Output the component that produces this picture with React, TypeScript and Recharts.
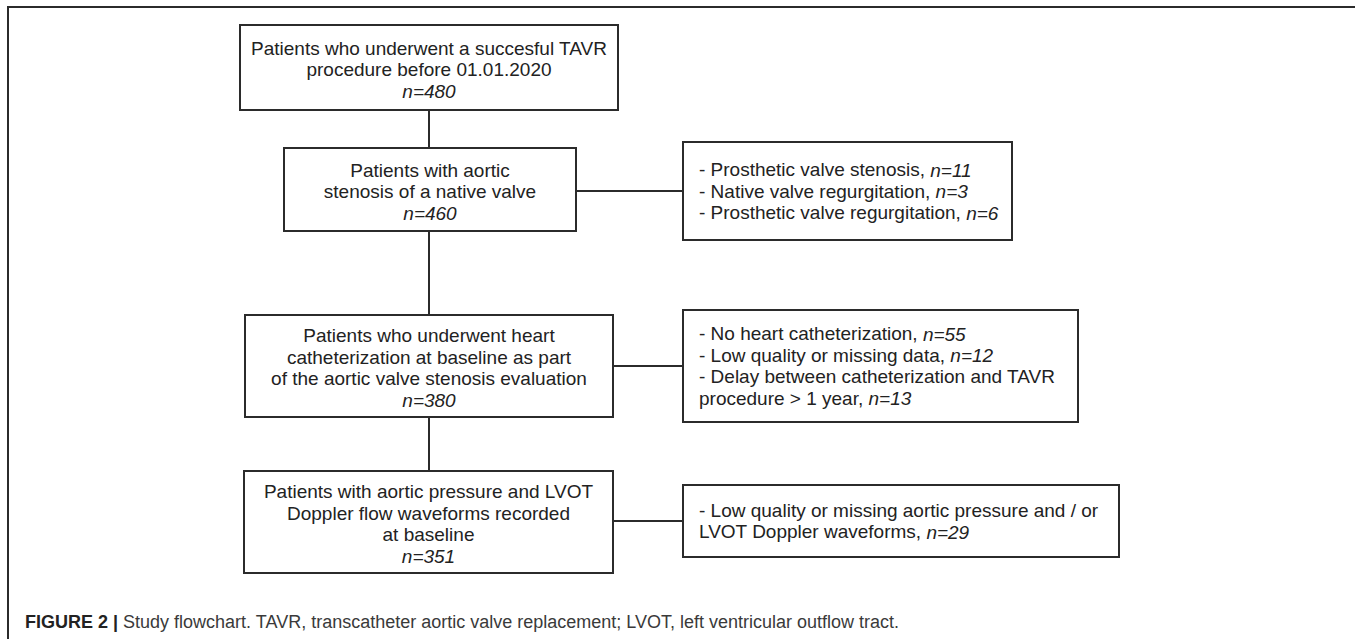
import React from 'react';
import { ComposedChart, XAxis, YAxis, ReferenceArea, ReferenceLine } from 'recharts';

const FONT = '"Liberation Sans", Arial, Helvetica, sans-serif';
const INK = '#2b2b2b';
const W = 1355;
const H = 639;

// main path of the flowchart
const stepLines = [
  ['Patients who underwent a succesful TAVR', 'procedure before 01.01.2020'],
  ['Patients with aortic', 'stenosis of a native valve'],
  ['Patients who underwent heart', 'catheterization at baseline as part', 'of the aortic valve stenosis evaluation'],
  ['Patients with aortic pressure and LVOT', 'Doppler flow waveforms recorded', 'at baseline'],
];
const stepCounts = [480, 460, 380, 351];

// excluded patients, one box per step after the first (null = no count on that line)
const exclusionLines = [
  ['- Prosthetic valve stenosis, ', '- Native valve regurgitation, ', '- Prosthetic valve regurgitation, '],
  ['- No heart catheterization, ', '- Low quality or missing data, ', '- Delay between catheterization and TAVR', 'procedure > 1 year, '],
  ['- Low quality or missing aortic pressure and / or', 'LVOT Doppler waveforms, '],
];
const exclusionCounts = [
  [11, 3, 6],
  [55, 12, null, 13],
  [null, 29],
];

// layout, in page pixels
const stepBoxes = [
  { x1: 240, x2: 618, y1: 25, y2: 110 },
  { x1: 284, x2: 576, y1: 148, y2: 231 },
  { x1: 245, x2: 613, y1: 315, y2: 417 },
  { x1: 244, x2: 613, y1: 471, y2: 573 },
];
const exclusionBoxes = [
  { x1: 683, x2: 1012, y1: 142, y2: 240 },
  { x1: 683, x2: 1078, y1: 310, y2: 422 },
  { x1: 683, x2: 1119, y1: 485, y2: 557 },
];
const SPINE_X = 429;
const LINE_H = 21.5;
const FONT_SIZE = 19;

const CenteredText = ({ viewBox, lines, n }: any) => {
  const { x, y, width, height } = viewBox;
  const cx = x + width / 2;
  const total = lines.length + 1;
  const top = y + height / 2 + 2 - ((total - 1) * LINE_H) / 2;
  return (
    <g>
      {lines.map((l: string, i: number) => (
        <text key={i} x={cx} y={top + i * LINE_H} textAnchor="middle" dominantBaseline="central"
          fontFamily={FONT} fontSize={FONT_SIZE} fill="#222">
          {l}
        </text>
      ))}
      <text x={cx} y={top + lines.length * LINE_H} textAnchor="middle" dominantBaseline="central"
        fontFamily={FONT} fontSize={FONT_SIZE} fontStyle="italic" fill="#222">
        {`n=${n}`}
      </text>
    </g>
  );
};

const LeftText = ({ viewBox, lines, counts }: any) => {
  const { x, y, height } = viewBox;
  const top = y + height / 2 - ((lines.length - 1) * LINE_H) / 2;
  return (
    <g>
      {lines.map((l: string, i: number) => (
        <text key={i} x={x + 16} y={top + i * LINE_H} dominantBaseline="central"
          fontFamily={FONT} fontSize={FONT_SIZE} fill="#222">
          {l}
          {counts[i] != null && <tspan fontStyle="italic">{`n=${counts[i]}`}</tspan>}
        </text>
      ))}
    </g>
  );
};

export default function App() {
  return (
    <div style={{ position: 'absolute', left: 0, top: 0, width: W, height: H, background: '#fff', overflow: 'hidden' }}>
      <div style={{ position: 'absolute', left: 7, top: 6, width: W, height: H, borderTop: `2px solid ${INK}`, borderLeft: `2px solid ${INK}` }} />
      <div style={{ position: 'absolute', left: 0, top: 0 }}>
        <ComposedChart width={W} height={H} margin={{ top: 0, right: 0, bottom: 0, left: 0 }}>
          <XAxis type="number" dataKey="x" domain={[0, W]} hide allowDataOverflow />
          <YAxis type="number" dataKey="y" domain={[0, H]} reversed hide allowDataOverflow />
          {stepBoxes.slice(1).map((b, i) => (
            <ReferenceLine key={`v${i}`} ifOverflow="visible" stroke={INK} strokeWidth={2}
              segment={[{ x: SPINE_X, y: stepBoxes[i].y2 }, { x: SPINE_X, y: b.y1 }]} />
          ))}
          {exclusionBoxes.map((e, i) => {
            const yMid = (e.y1 + e.y2) / 2;
            return (
              <ReferenceLine key={`h${i}`} ifOverflow="visible" stroke={INK} strokeWidth={2}
                segment={[{ x: stepBoxes[i + 1].x2, y: yMid }, { x: e.x1, y: yMid }]} />
            );
          })}
          {stepBoxes.map((b, i) => (
            <ReferenceArea key={`s${i}`} x1={b.x1} x2={b.x2} y1={b.y1} y2={b.y2} ifOverflow="visible"
              fill="#fff" fillOpacity={1} stroke={INK} strokeWidth={2}
              label={(p: any) => <CenteredText viewBox={p.viewBox} lines={stepLines[i]} n={stepCounts[i]} />} />
          ))}
          {exclusionBoxes.map((b, i) => (
            <ReferenceArea key={`e${i}`} x1={b.x1} x2={b.x2} y1={b.y1} y2={b.y2} ifOverflow="visible"
              fill="#fff" fillOpacity={1} stroke={INK} strokeWidth={2}
              label={(p: any) => <LeftText viewBox={p.viewBox} lines={exclusionLines[i]} counts={exclusionCounts[i]} />} />
          ))}
        </ComposedChart>
      </div>
      <div style={{ position: 'absolute', left: 25, top: 611, fontFamily: FONT, fontSize: 18, lineHeight: '22px', color: '#3a3a3a', whiteSpace: 'nowrap' }}>
        <b style={{ color: '#222' }}>FIGURE 2 |</b> Study flowchart. TAVR, transcatheter aortic valve replacement; LVOT, left ventricular outflow tract.
      </div>
    </div>
  );
}
